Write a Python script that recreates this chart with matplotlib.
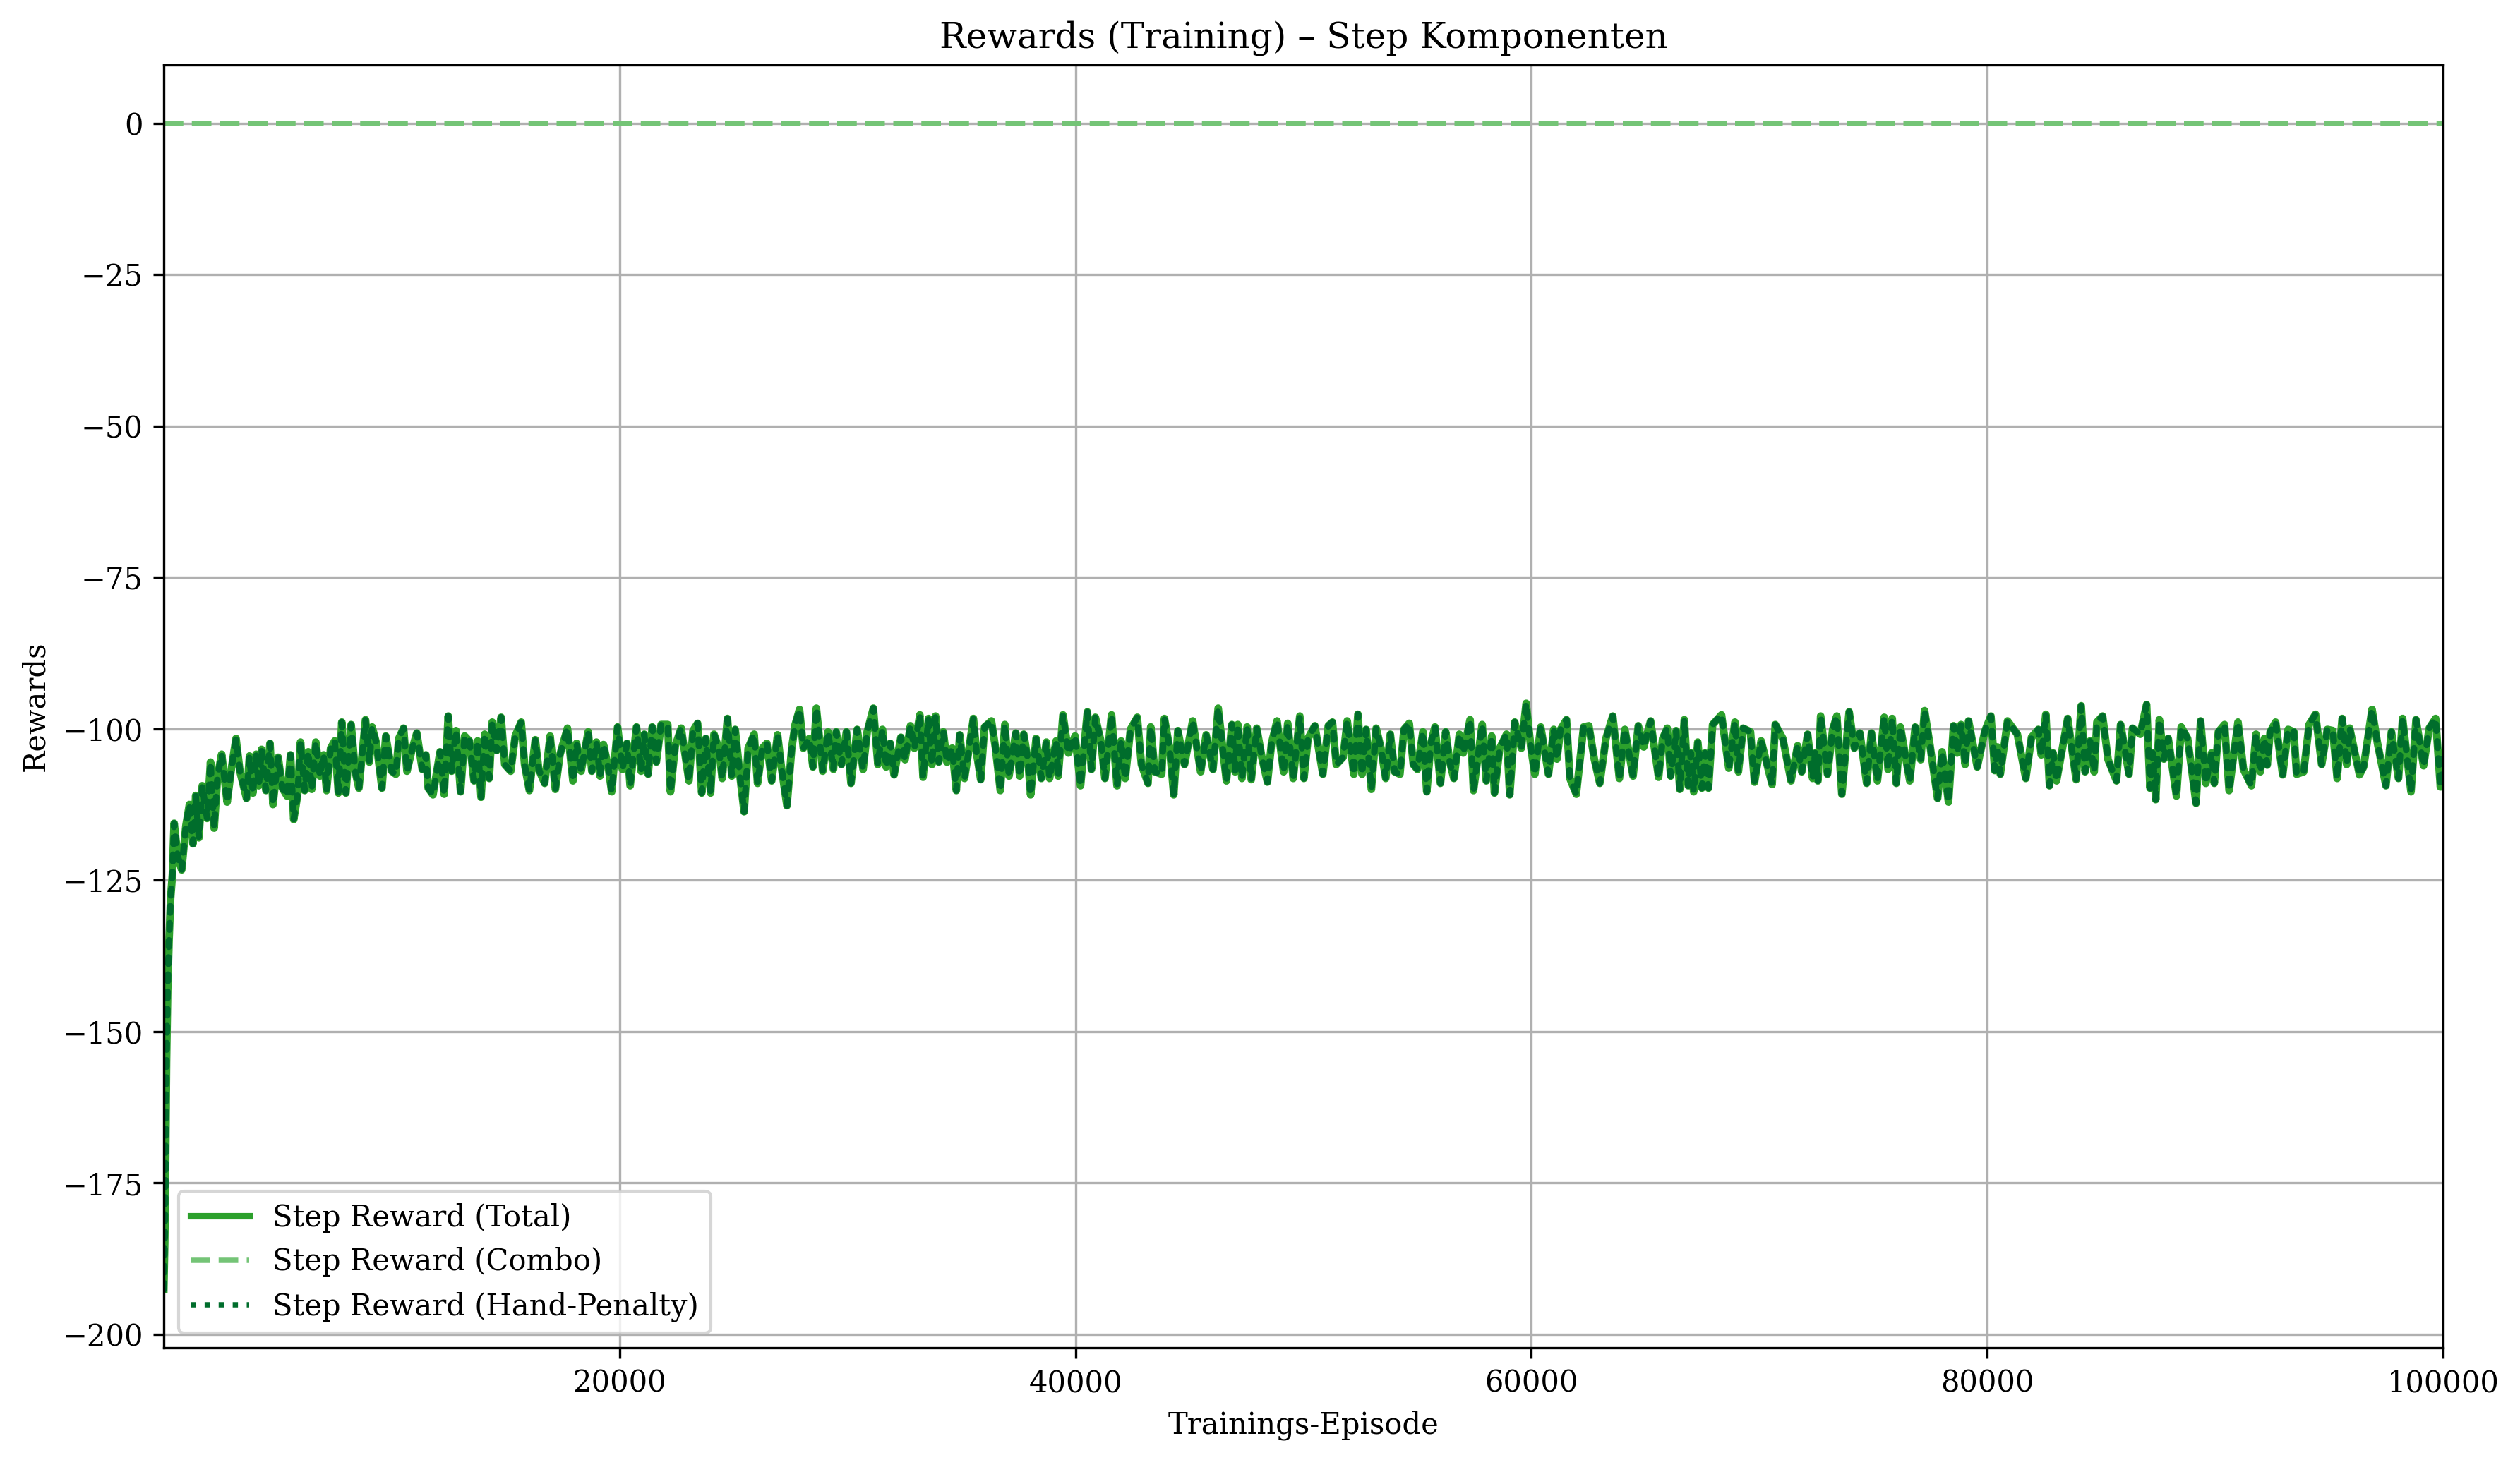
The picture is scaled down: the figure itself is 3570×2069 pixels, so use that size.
import matplotlib
matplotlib.use("Agg")
import matplotlib.pyplot as plt
from matplotlib.lines import Line2D

# values (episode, smoothed step reward)
episode = [
    1, 40, 80, 120, 170, 230, 300, 380, 455, 610, 786, 970, 1125, 1280, 1400, 1540, 1690, 1900,
    2050, 2210, 2360, 2540, 2780, 2950, 3170, 3340, 3630, 3760, 3910, 4050, 4170, 4290, 4480,
    4660, 4790, 5020, 5200, 5410, 5560, 5700, 5870, 6000, 6180, 6340, 6490, 6670, 6850, 7010,
    7140, 7320, 7500, 7660, 7810, 7990, 8220, 8400, 8560, 8850, 9020, 9140, 9330, 9570, 9740,
    10000, 10180, 10310, 10520, 10670, 10880, 11100, 11340, 11500, 11600, 11810, 12120, 12300,
    12480, 12630, 12820, 13020, 13200, 13410, 13610, 13770, 13920, 14080, 14280, 14410, 14600,
    14800, 14960, 15220, 15420, 15680, 15830, 16040, 16300, 16450, 16710, 16950, 17180, 17380,
    17710, 17950, 18110, 18310, 18620, 18780, 18980, 19140, 19290, 19500, 19650, 19910, 20120,
    20320, 20460, 20740, 20940, 21080, 21250, 21430, 21610, 21820, 22110, 22230, 22440, 22700,
    23040, 23220, 23420, 23600, 23780, 23990, 24140, 24350, 24500, 24730, 24920, 25070, 25280,
    25460, 25640, 25900, 26050, 26260, 26460, 26670, 26930, 27080, 27340, 27550, 27700, 27890,
    28060, 28320, 28480, 28630,
    28910, 29140, 29380, 29500, 29730, 29950, 30150, 30420, 30680, 30860, 31130, 31330, 31530,
    31690, 31870, 32040, 32340, 32520, 32760, 32930, 33170, 33310, 33550, 33700, 33860, 34000,
    34200, 34360, 34590, 34770, 34920, 35130, 35300, 35520, 35660, 35840, 36010, 36310, 36490,
    36700, 36900, 37080, 37380, 37550, 37730, 37910, 38030, 38270, 38500, 38720, 38860, 39150,
    39240, 39450, 39690, 39980, 40220, 40520, 40700, 40870, 41110, 41290, 41580, 41820, 42000,
    42180, 42410, 42710, 42890, 43180, 43300, 43480, 43780, 43900, 44130, 44310, 44490, 44780,
    45140, 45490, 45730, 46030, 46260, 46620, 46860,
    47000, 47120, 47300, 47530, 47710, 47950, 48190, 48420, 48600, 48840, 49130, 49310, 49550,
    49840, 50020, 50200, 50500, 50850, 51090, 51270, 51440, 51740, 51920, 52210, 52390, 52570,
    52750, 52980, 53190, 53400, 53610, 53810, 54000, 54230, 54410, 54640, 54820, 55000, 55240,
    55410, 55590, 55770, 56010, 56240, 56420, 56600, 56840, 57010, 57310, 57460, 57840, 58020,
    58260, 58380, 58610, 58910, 59050, 59270, 59560, 59770, 59980, 60150, 60410, 60750, 60980,
    61120, 61280, 61540, 61690, 61970, 62290, 62520, 62760, 63000,
    63270, 63570, 63860, 64100, 64460, 64690, 64930, 65230, 65580, 65760, 65960, 66110, 66350,
    66510, 66710, 66880, 67000, 67120, 67300, 67480, 67620, 67770, 67950, 68340, 68660, 68930,
    69080, 69290, 69610, 69790, 70080, 70560, 70700, 71030, 71390, 71680, 71860, 72120, 72340,
    72450, 72570, 72690, 72990, 73220, 73400, 73620, 73940, 74170, 74410, 74710, 74920, 75180,
    75480, 75650, 75830, 76010, 76190, 76600, 76840, 77080, 77250, 77490, 77820, 78020, 78300,
    78520, 78680, 78850, 79030, 79180, 79560, 79900, 80160, 80330, 80450, 80570, 80890,
    81320, 81690, 81940, 82240, 82370, 82570, 82730, 82890, 83040, 83530, 83900, 84120, 84290,
    84510, 84690, 84810, 85060, 85300, 85670, 85850, 86220, 86370, 86710, 86990, 87140, 87260,
    87390, 87550, 87750, 87940, 88300, 88510, 88790, 89160, 89360, 89590, 89840, 89960, 90140,
    90410, 90610, 91000, 91240, 91590, 91790, 91980, 92160, 92280, 92410, 92650, 92960, 93200,
    93450, 93570, 93880, 94120, 94400, 94670, 94920, 95160, 95350, 95570, 95770, 95900, 96330,
    96510, 96880, 97120, 97490, 97730, 98040, 98220, 98590, 98810, 99140, 99390, 99670, 99880,
    100000,
]

step_total = [
    -192.6, -185, -172, -155, -143, -135, -128, -124, -115.6, -121, -123.3, -116, -112.5, -119,
    -111, -118, -109.4, -114.8, -105.5, -116.4, -107.8, -104.2, -112.1, -107, -101.6, -107,
    -111.5, -104.5, -110.6, -104.2, -109.4, -103.4, -110.2, -102.4, -112.5, -104.7, -109.8,
    -111.1, -104.3, -115, -111, -102.2, -110.2, -103.8, -110, -102.2, -107.8, -104.3, -110.2,
    -103.2, -102, -110.6, -98.9, -110.6, -99.3, -107.1, -109.8, -98.5, -105.5, -99.7, -102.4,
    -109.8, -101.2, -107, -107.5, -101.6, -99.9, -107, -103.6, -100.7, -106.7, -104.3, -109.8,
    -110.9, -103.8, -110.8, -97.9, -107, -100.3, -110.4, -101.2, -102, -108.6, -102, -111.3,
    -100.9, -108.2, -98.9, -103.6, -98.1, -105.9, -107, -101.2, -98.9, -105.9, -110.2, -101.8,
    -106.7, -109, -101.2, -110, -104.3, -99.9, -108.6, -102.4, -107, -100.5, -107, -102.2,
    -107.8, -102.6, -106.3, -110.4, -99.7, -106.7, -102.4, -109.4, -99.7, -107, -100.9, -107.5,
    -99.7, -105.5, -99.3, -99.3, -110.4, -102.8, -99.9, -108.6, -100.3, -99.1, -110.6, -101.6,
    -110.6, -100.9, -103.2, -108.2, -98.3, -107.8, -100.1, -107.8, -113.7, -103.2, -100.9,
    -109, -103.2, -102.4, -108.6, -101, -105.9, -112.7, -103.2, -99.3, -96.8, -103.2, -101.6,
    -106.3, -96.6,
    -107, -100.5, -106.7, -100.5, -105.9, -100.5, -109, -100.1, -106.7, -100.5, -96.6, -105.9,
    -100.1, -106.3, -102.4, -107.6, -101.4, -105.1, -99.5, -103.2, -97.7, -108, -98.3, -105.9,
    -97.9, -105.5, -100.5, -105.5, -103.2, -110.2, -101, -108.2, -104, -98.3, -104, -108.4,
    -99.7, -98.7, -103.2, -110.2, -99.3, -107.8, -100.7, -107.8, -100.9, -105.1, -110.9,
    -101.6, -108.2, -102.2, -108.2, -102, -107.8, -97.7, -104, -101.2, -109.4, -97.2, -106.7,
    -98.1, -102, -108.2, -97.7, -109.4, -102, -108.2, -100.1, -98.1, -105.9, -109, -99.7,
    -107.1, -107.5, -98.3, -103.2, -110.9, -100.3, -105.9, -98.7, -107.1, -101, -106.7, -96.6,
    -108.6, -99.3,
    -107.1, -99.3, -108.2, -99.7, -108.4, -99.9, -105, -108.8, -102.4, -98.7, -107.1, -99.1,
    -108.2, -97.9, -108.2, -101.6, -99.5, -107.5, -99.5, -98.9, -105.9, -104.7, -98.7, -107.5,
    -97.6, -107.5, -100.1, -110, -99.9, -103.2, -108.2, -100.9, -107.1, -107.5, -100.1, -99.1,
    -105.9, -106.7, -100.5, -110.4, -102.4, -99.7, -109, -100.5, -105.5, -108.2, -100.9, -104,
    -98.5, -110.2, -99.3, -108.6, -101.2, -110.6, -103.2, -100.9, -110.9, -98.9, -103.2, -95.8,
    -103.2, -107.5, -99.7, -107.5, -100.1, -105, -100.1, -98.5, -108.2, -110.8, -99.7, -99.5,
    -105, -109,
    -101.6, -97.9, -108.2, -100.1, -107.8, -99.5, -103, -98.7, -108, -101.6, -99.9, -107.8,
    -100.3, -110, -98.5, -109.4, -104, -110.4, -102.2, -109.8, -104, -109.8, -99.3, -97.7,
    -106.5, -98.9, -107.1, -99.9, -100.5, -108.8, -102, -109.2, -99.3, -101.6, -108.6, -102.8,
    -107.1, -100.9, -108.2, -104, -108.6, -97.9, -107.5, -100.1, -97.9, -110.8, -97.2, -103.2,
    -100.7, -109, -100.7, -108.6, -98.1, -106.7, -98.3, -109, -99.7, -108.6, -99.7, -105.1,
    -97, -102.8, -111.5, -103.8, -112.1, -99.5, -104, -99.3, -105.9, -98.7, -106.3, -100.3,
    -97.9, -106.9, -103, -107.5, -98.7,
    -100.9, -108.2, -101.4, -100.1, -104.3, -97.6, -109.4, -104, -108.6, -98.3, -108.4, -96.2,
    -107.1, -102, -107.1, -98.9, -97.9, -105.1, -108.6, -99.3, -107.5, -99.9, -100.9, -96,
    -109.8, -104, -111.7, -98.5, -105, -101.6, -111.1, -99.7, -101.6, -112.3, -98.7, -109,
    -104, -109, -100.5, -99.3, -110.2, -98.9, -106.7, -109.4, -100.9, -107.1, -101.6, -106,
    -100.5, -98.9, -107.6, -100.1, -100.5, -107.5, -107.1, -99.3, -97.6, -105.9, -100.1,
    -100.3, -108.2, -98.3, -105.9, -99.9, -107.6, -106.3, -96.8, -102.4, -109.4, -100.5,
    -108.2, -98.3, -110.4, -98.5, -106.1, -99.9, -98.3, -109.6, -105,
]

step_combo = [0.0] * len(episode)
step_hand = list(step_total)

plt.rcParams['font.family'] = 'serif'

fig, ax = plt.subplots(figsize=(11.9, 6.897), dpi=300)

ax.plot(episode, step_total, color='#2ca02c', lw=2.6)
ax.plot(episode, step_combo, color='#74c476', lw=1.8, ls='--')
ax.plot(episode, step_hand, color='#006d2c', lw=2.2, ls=':', dash_capstyle='round')

ax.set_xlim(1, 100000)
ax.set_title('Rewards (Training) – Step Komponenten', fontsize=12)
ax.set_xlabel('Trainings-Episode')
ax.set_ylabel('Rewards')
ax.grid(True)

# legend keys drawn plainly (square dots), like the original
handles = [
    Line2D([], [], color='#2ca02c', lw=2.2),
    Line2D([], [], color='#74c476', lw=1.8, ls='--'),
    Line2D([], [], color='#006d2c', lw=1.8, ls=':'),
]
labels = ['Step Reward (Total)', 'Step Reward (Combo)', 'Step Reward (Hand-Penalty)']
ax.legend(handles, labels, loc='lower left')

fig.subplots_adjust(left=0.065, right=0.9695, top=0.9555, bottom=0.0768)
fig.savefig('out.png', dpi=300)
